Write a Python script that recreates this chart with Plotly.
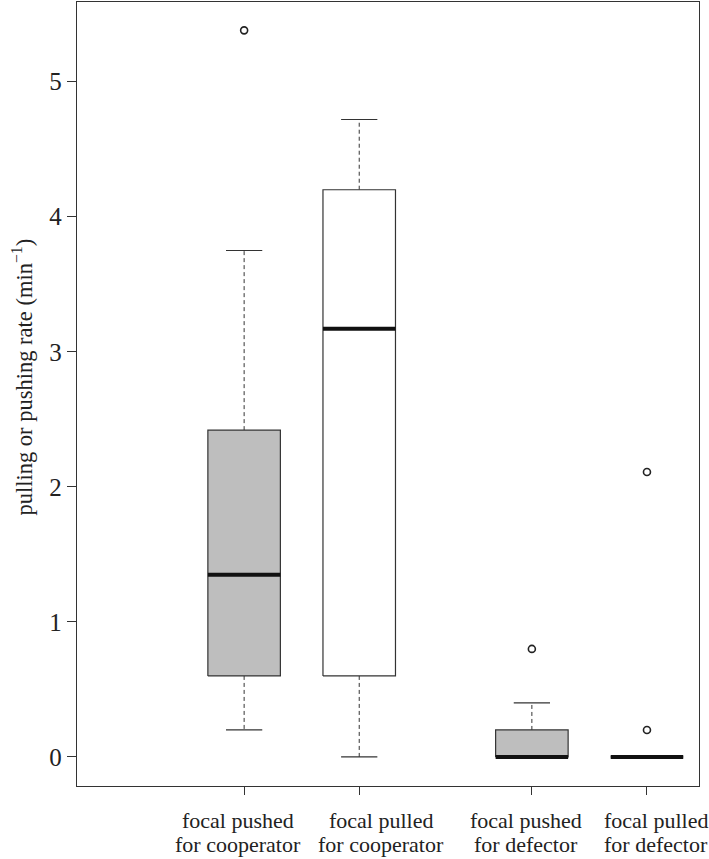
import plotly.graph_objects as go

# ---- data ----
categories = ["focal pushed\nfor cooperator", "focal pulled\nfor cooperator",
              "focal pushed\nfor defector", "focal pulled\nfor defector"]
positions = [1.0, 2.0, 3.5, 4.5]
lower_whisker = [0.2, 0.0, 0.0, 0.0]
q1 = [0.6, 0.6, 0.0, 0.0]
median = [1.35, 3.17, 0.0, 0.0]
q3 = [2.42, 4.2, 0.2, 0.0]
upper_whisker = [3.75, 4.72, 0.4, 0.0]
outliers = [[5.38], [], [0.8], [0.2, 2.11]]
box_fill = ["#bebebe", "#ffffff", "#bebebe", "#ffffff"]
y_ticks = [0, 1, 2, 3, 4, 5]
y_title = "pulling or pushing rate (min<sup>−1</sup>)"

# label horizontal nudges (pixels), as in the reference layout
label_xshift = [-6, 22, -6, 9]

BOX_W = 0.63
CAP_W = BOX_W / 2
EDGE = "#333333"
TEXT = "#222222"
FONT = "Liberation Serif"

fig = go.Figure()
for i, p in enumerate(positions):
    l, r = p - BOX_W / 2, p + BOX_W / 2
    # whiskers (dashed)
    fig.add_trace(go.Scatter(x=[p, p, None, p, p], y=[q3[i], upper_whisker[i], None, q1[i], lower_whisker[i]],
                             mode="lines", line=dict(color=EDGE, width=1, dash="4px,3px"),
                             hoverinfo="skip", showlegend=False))
    # caps
    fig.add_trace(go.Scatter(x=[p - CAP_W / 2, p + CAP_W / 2, None, p - CAP_W / 2, p + CAP_W / 2],
                             y=[upper_whisker[i], upper_whisker[i], None, lower_whisker[i], lower_whisker[i]],
                             mode="lines", line=dict(color=EDGE, width=1.2),
                             hoverinfo="skip", showlegend=False))
    # box
    fig.add_trace(go.Scatter(x=[l, r, r, l, l], y=[q1[i], q1[i], q3[i], q3[i], q1[i]],
                             mode="lines", fill="toself", fillcolor=box_fill[i],
                             line=dict(color=EDGE, width=1.2),
                             hoverinfo="skip", showlegend=False))
    # median
    fig.add_trace(go.Scatter(x=[l, r], y=[median[i], median[i]], mode="lines",
                             line=dict(color="#111111", width=4),
                             hoverinfo="skip", showlegend=False))
    # outliers
    if outliers[i]:
        fig.add_trace(go.Scatter(x=[p] * len(outliers[i]), y=outliers[i], mode="markers",
                                 marker=dict(symbol="circle-open", size=7, color=TEXT,
                                             line=dict(width=1.6)),
                                 hoverinfo="skip", showlegend=False))

# two-line category labels
for p, lab, dx in zip(positions, categories, label_xshift):
    for k, line in enumerate(lab.split("\n")):
        fig.add_annotation(x=p, xref="x", y=0, yref="paper", yanchor="top",
                           text=line, showarrow=False,
                           xshift=dx, yshift=-20 - 24 * k,
                           font=dict(family=FONT, size=22, color=TEXT))

# y-axis title (rotated)
fig.add_annotation(x=0, xref="paper", y=0.521, yref="paper", xanchor="center", yanchor="middle",
                   xshift=-55, text=y_title, textangle=-90, showarrow=False,
                   font=dict(family=FONT, size=22.5, color=TEXT))

fig.update_layout(
    width=709, height=859,
    margin=dict(l=77, r=10, t=2, b=73, autoexpand=False),
    plot_bgcolor="white", paper_bgcolor="white",
    font=dict(family=FONT, color=TEXT),
    xaxis=dict(range=[-0.452, 4.952], tickvals=positions, showticklabels=False,
               ticks="outside", ticklen=8, tickcolor=EDGE, showgrid=False, zeroline=False,
               showline=True, mirror=True, linecolor=EDGE, linewidth=1.3),
    yaxis=dict(range=[-0.215, 5.59], tickvals=y_ticks, ticks="outside", ticklen=9,
               tickcolor=EDGE, showgrid=False, zeroline=False,
               showline=True, mirror=True, linecolor=EDGE, linewidth=1.3,
               tickfont=dict(family=FONT, size=25, color=TEXT)),
)

fig.write_html("out.html", config={"displayModeBar": False},
               post_script="document.body.style.margin='0';document.body.style.overflow='hidden';")
